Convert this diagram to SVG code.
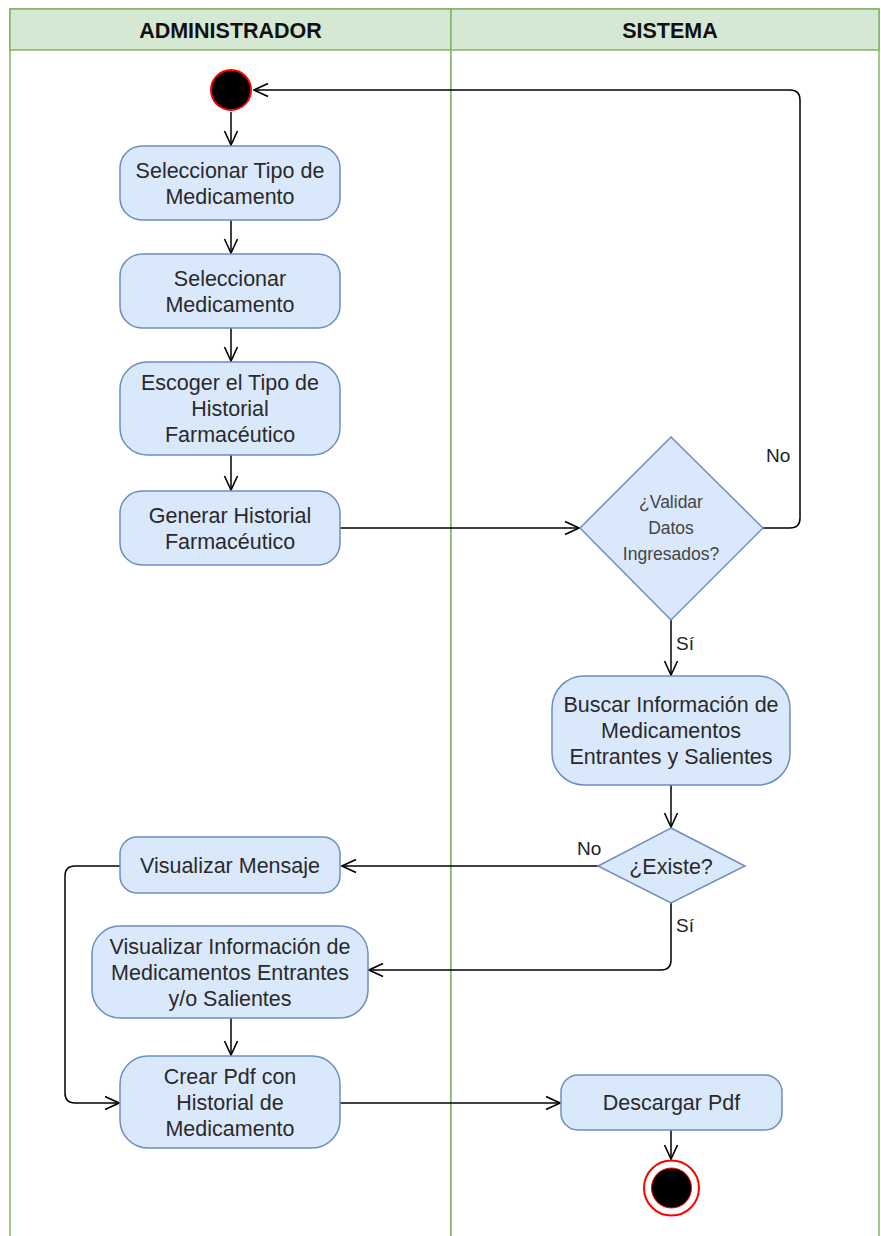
<svg xmlns="http://www.w3.org/2000/svg" width="881" height="1236" viewBox="0 0 881 1236">
  <defs>
    <marker id="open" viewBox="0 0 16 16" refX="15" refY="8" markerWidth="16" markerHeight="16" markerUnits="userSpaceOnUse" orient="auto">
      <path d="M1,1.5 L15,8 L1,14.5" fill="none" stroke="#000" stroke-width="1.6"/>
    </marker>
  </defs>
  <style>
    .lane { fill: #ffffff; stroke: #82b366; stroke-width: 1.5; }
    .head { fill: #d5e8d4; stroke: #82b366; stroke-width: 1.5; }
    .htxt { font-family: "Liberation Sans", Arial, sans-serif; font-weight: bold; font-size: 21.5px; fill: #111; text-anchor: middle; }
    .act { fill: #dae8fc; stroke: #6c8ebf; stroke-width: 1.5; }
    .txt { font-family: "Liberation Sans", Arial, sans-serif; font-size: 21.5px; fill: #2a2a2a; text-anchor: middle; }
    .small { font-family: "Liberation Sans", Arial, sans-serif; font-size: 17.5px; fill: #444; text-anchor: middle; }
    .lbl { font-family: "Liberation Sans", Arial, sans-serif; font-size: 19px; fill: #222; }
    .edge { fill: none; stroke: #000; stroke-width: 1.5; marker-end: url(#open); }
  </style>

  <!-- swimlanes -->
  <g id="pool">
    <rect class="lane" x="10" y="9" width="441" height="1240"/>
    <rect class="lane" x="451" y="9" width="428" height="1240"/>
    <rect class="head" x="10" y="9" width="441" height="41"/>
    <rect class="head" x="451" y="9" width="428" height="41"/>
    <text class="htxt" x="230.5" y="37.5">ADMINISTRADOR</text>
    <text class="htxt" x="670" y="37.5">SISTEMA</text>
  </g>

  <!-- connectors -->
  <g id="connectors">
    <path class="edge" d="M231,112 L231,145"/>
    <path class="edge" d="M231,220 L231,253"/>
    <path class="edge" d="M231,328 L231,361"/>
    <path class="edge" d="M231,455 L231,490"/>
    <path class="edge" d="M340,528 L579,528"/>
    <path class="edge" d="M763,528 L790,528 Q800,528 800,518 L800,100 Q800,90 790,90 L254,90"/>
    <path class="edge" d="M671,620 L671,675"/>
    <path class="edge" d="M671,785 L671,827"/>
    <path class="edge" d="M598,866 L342,866"/>
    <path class="edge" d="M671,903 L671,960 Q671,970 661,970 L369,970"/>
    <path class="edge" d="M120,866 L75,866 Q65,866 65,876 L65,1093 Q65,1103 75,1103 L119,1103"/>
    <path class="edge" d="M231,1018 L231,1055"/>
    <path class="edge" d="M340,1103 L560,1103"/>
    <path class="edge" d="M671,1130 L671,1159"/>
    <text class="lbl" x="766" y="462">No</text>
    <text class="lbl" x="676" y="650">Sí</text>
    <text class="lbl" x="577" y="855">No</text>
    <text class="lbl" x="676" y="932">Sí</text>
  </g>

  <g id="start">
    <circle cx="231" cy="90" r="20" fill="#000" stroke="#ff0000" stroke-width="2"/>
  </g>

  <g id="n1">
    <rect class="act" x="120" y="146" width="220" height="74" rx="22"/>
    <text class="txt" x="230" y="177.5">Seleccionar Tipo de</text>
    <text class="txt" x="230" y="203.5">Medicamento</text>
  </g>
  <g id="n2">
    <rect class="act" x="120" y="254" width="220" height="74" rx="22"/>
    <text class="txt" x="230" y="285.5">Seleccionar</text>
    <text class="txt" x="230" y="311.5">Medicamento</text>
  </g>
  <g id="n3">
    <rect class="act" x="120" y="362" width="220" height="93" rx="27"/>
    <text class="txt" x="230" y="390">Escoger el Tipo de</text>
    <text class="txt" x="230" y="416">Historial</text>
    <text class="txt" x="230" y="442">Farmacéutico</text>
  </g>
  <g id="n4">
    <rect class="act" x="120" y="491" width="220" height="74" rx="22"/>
    <text class="txt" x="230" y="522.5">Generar Historial</text>
    <text class="txt" x="230" y="548.5">Farmacéutico</text>
  </g>

  <g id="d1">
    <path class="act" d="M671,437 L763,528 L671,620 L580,528 Z"/>
    <text class="small" x="671" y="508">¿Validar</text>
    <text class="small" x="671" y="534">Datos</text>
    <text class="small" x="671" y="560">Ingresados?</text>
  </g>

  <g id="n5">
    <rect class="act" x="552" y="676" width="238" height="109" rx="32"/>
    <text class="txt" x="671" y="712">Buscar Información de</text>
    <text class="txt" x="671" y="738">Medicamentos</text>
    <text class="txt" x="671" y="764">Entrantes y Salientes</text>
  </g>

  <g id="d2">
    <path class="act" d="M671,828 L745,866 L671,903 L598,866 Z"/>
    <text class="txt" x="671" y="873.5">¿Existe?</text>
  </g>

  <g id="n6">
    <rect class="act" x="120" y="837" width="220" height="56" rx="17"/>
    <text class="txt" x="230" y="873">Visualizar Mensaje</text>
  </g>

  <g id="n7">
    <rect class="act" x="92" y="926" width="276" height="92" rx="28"/>
    <text class="txt" x="230" y="953.5">Visualizar Información de</text>
    <text class="txt" x="230" y="979.5">Medicamentos Entrantes</text>
    <text class="txt" x="230" y="1005.5">y/o Salientes</text>
  </g>

  <g id="n8">
    <rect class="act" x="120" y="1056" width="220" height="92" rx="28"/>
    <text class="txt" x="230" y="1083.5">Crear Pdf con</text>
    <text class="txt" x="230" y="1109.5">Historial de</text>
    <text class="txt" x="230" y="1135.5">Medicamento</text>
  </g>

  <g id="n9">
    <rect class="act" x="561" y="1075" width="221" height="55" rx="17"/>
    <text class="txt" x="671.5" y="1110">Descargar Pdf</text>
  </g>

  <g id="end">
    <circle cx="671.5" cy="1188" r="27.5" fill="#fff" stroke="#ff0000" stroke-width="2"/>
    <circle cx="671.5" cy="1188" r="20" fill="#000" stroke="#ff0000" stroke-width="1"/>
  </g>
</svg>
